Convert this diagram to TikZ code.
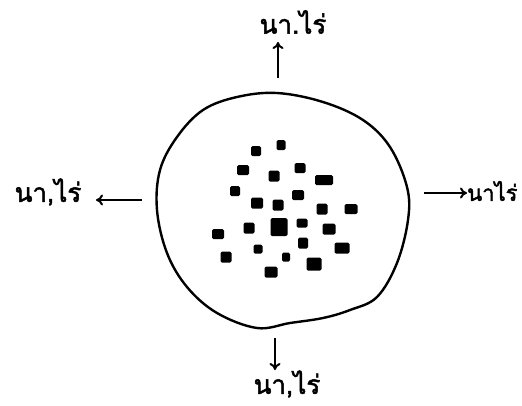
\documentclass[tikz,border=0pt]{standalone}
\usepackage{fontspec}
\newfontfamily\thaifont[Script=Thai,FakeBold=2]{Loma}
\usetikzlibrary{arrows.meta}
\tikzset{
  lbl/.style={font=\thaifont\fontsize{26pt}{30pt}\selectfont, inner sep=0pt},
  arr/.style={line width=2pt, -{To[length=7pt,width=11pt]}},
  blob/.style={line width=2.4pt},
  dot/.style={fill=black, rounded corners=1.5pt}
}
\begin{document}
\begin{tikzpicture}[x=1pt,y=-1pt]
\useasboundingbox (0,0) rectangle (522,405);
% outline
\draw[blob] plot[smooth cycle, tension=0.6] coordinates {
 (277,93) (323,102) (363,120) (390,147) (407,187) (408,220) (397,263)
 (377,297) (350,310) (323,318) (290,323) (257,328) (217,313) (187,287)
 (167,253) (157,210) (160,170) (177,137) (203,110) (237,97)};
% squares
\foreach \x/\y/\w/\h in {
 256/151/10/10, 281/145/9/10, 243/170/12/10, 274/176/11/11, 300/168/11/10,
 324/180/18/10, 235/191/10/10, 298/195/12/10, 257/203/12/11, 278/205/11/11,
 322/209/11/11, 351/209/13/10, 249/228/11/11, 279/227/17/18, 302/223/11/9,
 329/229/13/11, 218/234/12/10, 303/243/10/11, 258/249/9/9, 342/248/15/11,
 226/257/11/11, 286/257/8/9, 314/264/15/13, 271/272/13/11}
 \fill[dot] (\x-\w/2,\y-\h/2) rectangle (\x+\w/2,\y+\h/2);
% labels
\node[lbl, anchor=center] (top) at (293,22) {นา.ไร่};
\node[lbl, anchor=center] (left) at (48,192) {นา,ไร่};
\node[lbl, anchor=west, font=\thaifont\fontsize{22pt}{26pt}\selectfont] (right) at (467,191) {นาไร่};
\node[lbl, anchor=center] (bottom) at (287,384) {นา,ไร่};
% arrow end points
\coordinate (tS) at (278,78); \coordinate (tE) at (278,42);
\coordinate (lS) at (142,200); \coordinate (lE) at (96,200);
\coordinate (rS) at (424,193); \coordinate (rE) at (467,193);
\coordinate (bS) at (275,338); \coordinate (bE) at (275,370);
\draw[arr] (tS) -- (tE);
\draw[arr] (lS) -- (lE);
\draw[arr] (rS) -- (rE);
\draw[arr] (bS) -- (bE);
\end{tikzpicture}
\end{document}
